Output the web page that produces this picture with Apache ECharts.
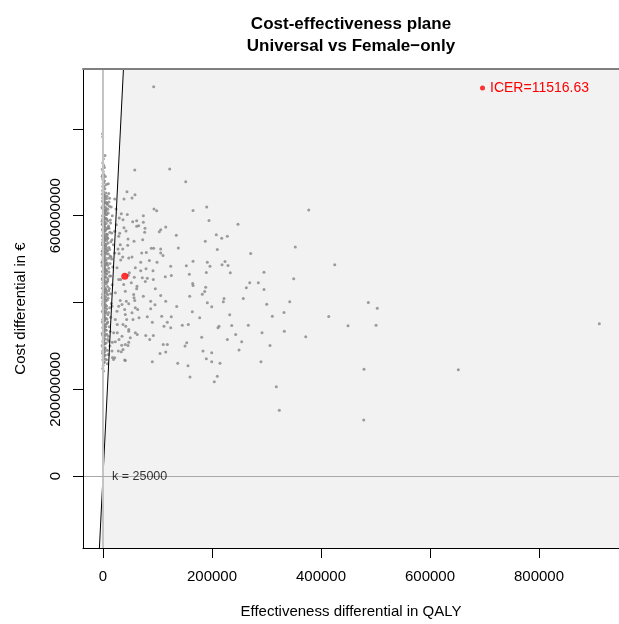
<!DOCTYPE html>
<html>
<head>
<meta charset="utf-8">
<script src="https://cdn.jsdelivr.net/npm/echarts/dist/echarts.min.js"></script>
<style>
  html, body { margin: 0; padding: 0; background: #fff; }
  #main { width: 619px; height: 624px; }
</style>
</head>
<body>
<div id="main"></div>
<script>
// willingness to pay and the mean point (ICER)
var wtp = 25000;
var icerText = 'ICER=11516.63';
var meanQaly = 40000;
var meanCost = 460665200;

// axis limits and ticks
var xLimits = [-36697, 946789];
var yLimits = [-165.5e6, 937.9e6];
var xTicks = [0, 200000, 400000, 600000, 800000];
var yTicks = [0, 200e6, 400e6, 600e6, 800e6];
var yTickLabels = [0, 200e6, 600e6];

// simulations spread out to the right
var spreadQaly = [
  93000, -800, -600, 3700, 58200, 122400, 151800, 300, -500, 400, 9700, 200, -300, 10500, 44000, 58700, 53200, 38500, 21500, 11000,
  93600, 98500, 165200, 190300, 194500, 247700, 33600, 44600, 74000, 54500, 61800, 74000, 61800, 38500, 77100, 76500, 115100, 105900, 103300, 30600,
  42200, 134500, 207900, 217800, 228100, 45900, 56900, 72800, 187700, 88600, 93000, 105900, 138200, 209700, 271000, 36100, 45300, 79500, 71000, 105900,
  29400, 53200, 110100, 165200, 191400, 223900, 218400, 32500, 69200, 85000, 99100, 124200, 152900, 196300, 229400, 158400, 189600, 233600, 295400, 114300,
  125300, 91800, 78900, 69200, 46400, 57400, 72100, 81300, 77600, 92300, 32500, 269200, 263000, 285000, 165200, 164600, 188400, 186600, 182200, 295400,
  257400, 222000, 220800, 159100, 105900, 96000, 61800, 74000, 56900, 58200, 42800, 87500, 115100, 191400, 199500, 300400, 135200, 95400, 87500, 63700,
  39800, 28800, 107700, 125300, 163900, 177400, 232500, 310700, 55000, 66100, 81300, 43500, 118000, 90500, 41700, 26200, 145500, 156500, 211000, 236200,
  266600, 124200, 111900, 47200, 26200, 62900, 78400, 92300, 212900, 181100, 243500, 291800, 29400, 45900, 110600, 118000, 150500, 153600, 183500, 249600,
  306400, 104600, 115100, 28100,
  17100, 34300, 47200, 36700, 85700, 199500, 228100, 254500, 19300, 17400, 39800, 90500, 137100, 156000, 159600, 189600, 199500, 214700, 209700, 204200,
  289900, 318000, 323500,
  377500, 352900, 425200, 349900, 342600, 486800, 503300, 332100, 414200, 449600, 501000, 910700, 332700, 372000, 478900, 652000, 478400,
  23900, 29900, 36700, 65500, 24400, 21500, 28800, 16500, 31700, 27500, 21500, 36100, 47200, 14700, 25700, 48300, 59300, 28800, 38000, 51900,
  62400, 22600, 40900, 56300, 31700, 16500, 34900, 47200, 59300, 25700, 40900, 53200, 22600, 36700, 47200, 59300, 19600, 34900, 50100, 22600,
  40900, 16500, 33600, 40900, 21500
];
var spreadCost = [
  897e6, 788.5e6, 781.6e6, 738.6e6, 705e6, 707.4e6, 678.2e6, 701.9e6, 694.3e6, 686.7e6, 673.6e6, 675.2e6, 667.4e6, 651.3e6, 655.2e6, 648.3e6, 640.7e6, 638.4e6, 638.4e6, 631.5e6,
  615.4e6, 611.5e6, 612.2e6, 620e6, 589.2e6, 580e6, 604.6e6, 603e6, 600e6, 586.2e6, 588.5e6, 584.6e6, 575.4e6, 572.4e6, 570.8e6, 561.6e6, 574e6, 567.8e6, 563.2e6, 559.3e6,
  564.8e6, 554.7e6, 556.3e6, 547.8e6, 552.4e6, 546.5e6, 540.9e6, 544.8e6, 540.9e6, 524.8e6, 524.8e6, 523.5e6, 525.8e6, 521.9e6, 512.7e6, 523.5e6, 531.7e6, 515e6, 514.3e6, 514.3e6,
  512.7e6, 505.1e6, 508.1e6, 494.9e6, 492.7e6, 494.3e6, 486.7e6, 498.2e6, 492.7e6, 496.6e6, 492.7e6, 483.5e6, 484.4e6, 483.5e6, 485.1e6, 465.1e6, 469e6, 468.3e6, 469.7e6, 459.1e6,
  462.1e6, 472.9e6, 477.5e6, 472.9e6, 462.8e6, 458.2e6, 456.8e6, 455.9e6, 448.3e6, 452.9e6, 452.9e6, 445.3e6, 433.8e6, 445.3e6, 439.1e6, 443.7e6, 435.2e6, 425.3e6, 419.1e6, 429.9e6,
  409.2e6, 409.2e6, 401.6e6, 414.5e6, 416.1e6, 431.5e6, 431.5e6, 414.5e6, 410.8e6, 404.6e6, 403e6, 403e6, 403e6, 399.3e6, 390.1e6, 396.1e6, 390.8e6, 394.7e6, 385.5e6, 383.9e6,
  383.9e6, 391.5e6, 368.5e6, 367.1e6, 378.6e6, 364.8e6, 371.7e6, 368.5e6, 360.9e6, 364.8e6, 367.1e6, 360.9e6, 354.7e6, 354.7e6, 345.5e6, 349.4e6, 347.8e6, 349.4e6, 341.9e6, 347.1e6,
  347.8e6, 341.9e6, 345.5e6, 334e6, 330.4e6, 326.4e6, 324.1e6, 324.1e6, 345.5e6, 320.2e6, 326.4e6, 330.4e6, 314.9e6, 301.2e6, 303.5e6, 303.5e6, 299.6e6, 307.4e6, 288.1e6, 290.4e6,
  301.2e6, 282.8e6, 285.8e6, 288.1e6,
  308.7e6, 301.8e6, 308.7e6, 292e6, 314.9e6, 284.4e6, 314.9e6, 309.7e6, 269e6, 273.6e6, 267.4e6, 263.7e6, 259.8e6, 254.5e6, 228.3e6, 270.6e6, 263.7e6, 259.8e6, 229.9e6, 217.7e6,
  263.7e6, 206.2e6, 151.7e6,
  613.1e6, 528.1e6, 486.7e6, 454.5e6, 401.6e6, 400e6, 386.9e6, 377e6, 367.8e6, 346.4e6, 347.8e6, 351e6, 334e6, 321.2e6, 246e6, 245.3e6, 129.4e6,
  615.4e6, 594.7e6, 590.8e6, 577e6, 579.3e6, 563.9e6, 552.4e6, 544.8e6, 533.3e6, 523.5e6, 514.3e6, 505.1e6, 502.8e6, 505.1e6, 479.8e6, 468.3e6, 479.8e6, 452.9e6, 441.4e6, 445.3e6,
  437.5e6, 422.3e6, 426e6, 418.4e6, 404.6e6, 391.5e6, 395.4e6, 397e6, 387.8e6, 380e6, 372.4e6, 376.3e6, 360.9e6, 349.4e6, 337.9e6, 330.4e6, 330.4e6, 322.5e6, 318.9e6, 309.7e6,
  303.5e6, 288.1e6, 286.7e6, 266.7e6, 272.9e6
];

// the dense band of simulations close to zero QALY
var bandQaly = [
  1200, -400, 2500, 800, -1200,
  1500, 4200, -200, 2800, 600, 6000, 1800, 3500, -600, 900, 5200, 2300, 7400, -1500,
  400, 3000, 1000, -800, 4600, 1700, 8200, 200, 2600, 5600, -300, 1300, 3800, 700, 9600, 2100, 4900, -1000, 3300, 1500,
  6500, 100, 2700, 11800, -1800, 5000, 900, 3900, 7100, -500, 2200, 6900,
  300, 2400, 4500, -700, 1600, 8800, 3100, 600, 5800, -1300, 2000, 10200, 3600, 1100, 7600, -200, 4300, 2700, 12500, 500,
  5400, 1900, -900, 3400, 900, 6200, -1600, 2900, 1400, 4800, 200, 8000, 2500, -400, 14000,
  1300, 4100, -300, 6700, 2200, 800, 9300, 3200, -1100, 5000, 1700, 11000, 400, 3700, 7200, -600, 2500, 1000, 5800, -1700,
  3000, 13200, 1500, 4400, 100, 8400, 2800, -900, 600, 6100, 1900, 3500, -200, 10000, 2300,
  700, 3900, -500, 2000, 7800, 1200, 4700, -1400, 2900, 500, 10600, 3400, 1600, 6300, -800, 2400, 900, 5300, -100, 12000,
  3100, 1400, 8900, -1200, 2700, 300, 5600, 1800, 4000, -300, 7000, 2200, 900, -1900, 3700,
  1000, 3600, -400, 5900, 1800, 400, 8300, 2600, -1000, 4300, 1300, 10500, 200, 3200, 6800, -700, 2100, 800, 4900, -1500,
  2900, 1500, 7500, 0, 3800, 2300, 600, 5300, 1100, -200,
  1600, 4600, -300, 2700, 800, 6900, 1900, -1100, 3500, 500, 9000, 2400, 1200, 5100, -600, 3000, 300, 7800, 1700, 3900,
  -100, 2100, 1000,
  600, 3300, -400, 2000, 6200, 1100, -1300, 4200, 2600, 400, 8600, 1800, -200, 3600, 900, 5000, 2300,
  200, 2900, -600, 1500, 4400, 700, -300, 2200, 300, -500, 1000,
  12000, 15000, 9000, 17000, 13500, 11000, 16000, 8500, 14500, 19000, 12200, 9800, 15800, 13000, 18000, 10800, 14200, 8700, 16800, 11600,
  13800, 9400, 15200, 12400, 10200, 14000, 8800, 11300, 13100, 9600, 10700, 12600, 7800, 9900, 6500, 8200, 7000, 5400, 6800, 9100,
  7300, 6000, 7900, 5500, 8600, 6400, 5700, 7700, 6100, 8900, 5200, 6600, 4700, 7300, 5600, 4400, 6900, 3800, 5800, 4100,
  3300, 2700, 3600, 1900, 4800, 3100, 2300, 1200, -800, 300, -1500, 1700, -900, 700, 2500, -1200, 1400, -600, 2000, -1000,
  1100, -1300, 2600, -800, 500, -1100
];
var bandCost = [
  716e6, 722e6, 711e6, 731e6, 707e6,
  695e6, 690e6, 684e6, 680e6, 676e6, 672e6, 668e6, 662e6, 658e6, 655e6, 652e6, 648e6, 645e6, 690e6,
  643e6, 640e6, 637e6, 634e6, 631e6, 628e6, 626e6, 624e6, 621e6, 618e6, 616e6, 613e6, 611e6, 608e6, 606e6, 604e6, 602e6, 600e6, 644e6, 647e6,
  639e6, 632e6, 629e6, 622e6, 619e6, 614e6, 611e6, 607e6, 603e6, 641e6, 635e6, 628e6,
  598e6, 596e6, 594e6, 592e6, 590e6, 588e6, 586e6, 584e6, 582e6, 580e6, 578e6, 576e6, 574e6, 572e6, 570e6, 568e6, 566e6, 564e6, 562e6, 560e6,
  558e6, 556e6, 554e6, 552e6, 597e6, 593e6, 587e6, 581e6, 575e6, 569e6, 563e6, 557e6, 551e6, 579e6, 583e6,
  549e6, 547e6, 545e6, 543e6, 541e6, 539e6, 537e6, 535e6, 533e6, 531e6, 529e6, 527e6, 525e6, 523e6, 521e6, 519e6, 517e6, 515e6, 513e6, 511e6,
  509e6, 507e6, 505e6, 503e6, 501e6, 548e6, 544e6, 538e6, 532e6, 526e6, 520e6, 514e6, 508e6, 502e6, 530e6,
  499e6, 497e6, 495e6, 493e6, 491e6, 489e6, 487e6, 485e6, 483e6, 481e6, 479e6, 477e6, 475e6, 473e6, 471e6, 469e6, 467e6, 465e6, 463e6, 461e6,
  459e6, 457e6, 455e6, 453e6, 451e6, 496e6, 490e6, 484e6, 478e6, 472e6, 466e6, 460e6, 454e6, 492e6, 470e6,
  449e6, 447e6, 445e6, 443e6, 441e6, 439e6, 437e6, 435e6, 433e6, 431e6, 429e6, 427e6, 425e6, 423e6, 421e6, 419e6, 417e6, 415e6, 413e6, 411e6,
  409e6, 407e6, 405e6, 403e6, 401e6, 446e6, 438e6, 430e6, 422e6, 414e6,
  398e6, 395e6, 393e6, 390e6, 387e6, 385e6, 382e6, 380e6, 377e6, 374e6, 372e6, 369e6, 366e6, 364e6, 361e6, 358e6, 355e6, 353e6, 396e6, 388e6,
  379e6, 370e6, 359e6,
  348e6, 345e6, 342e6, 339e6, 336e6, 333e6, 329e6, 326e6, 322e6, 318e6, 315e6, 312e6, 309e6, 305e6, 302e6, 344e6, 331e6,
  297e6, 293e6, 289e6, 284e6, 279e6, 274e6, 268e6, 262e6, 255e6, 248e6, 242e6,
  640e6, 620e6, 615e6, 600e6, 590e6, 571e6, 560e6, 548e6, 540e6, 533e6, 522e6, 512e6, 500e6, 490e6, 482e6, 470e6, 461e6, 450e6, 441e6, 432e6,
  420e6, 410e6, 398e6, 388e6, 377e6, 366e6, 355e6, 344e6, 333e6, 322e6, 311e6, 300e6, 290e6, 280e6, 268e6, 259e6, 630e6, 610e6, 592e6, 573e6,
  553e6, 535e6, 518e6, 498e6, 486e6, 474e6, 458e6, 447e6, 426e6, 418e6, 406e6, 392e6, 380e6, 362e6, 350e6, 337e6, 327e6, 316e6, 307e6, 296e6,
  287e6, 278e6, 270e6, 263e6, 375e6, 362e6, 350e6, 338e6, 325e6, 313e6, 301e6, 292e6, 283e6, 276e6, 306e6, 355e6, 368e6, 398e6, 424e6, 456e6,
  480e6, 518e6, 546e6, 568e6, 618e6, 650e6
];

var font = 'Liberation Sans, Arial, Helvetica, sans-serif';

var sims = [];
for (var i = 0; i < spreadQaly.length; i++) sims.push([spreadQaly[i], spreadCost[i]]);
for (var j = 0; j < bandQaly.length; j++) sims.push([bandQaly[j], bandCost[j]]);

// corners of the area below the wtp line
var areaCorners = [
  [yLimits[0] / wtp, yLimits[0]],
  [yLimits[1] / wtp, yLimits[1]],
  [xLimits[1], yLimits[1]],
  [xLimits[1], yLimits[0]]
];

function plainNumber(v) { return String(v); }

var chart = echarts.init(document.getElementById('main'));
chart.setOption({
  animation: false,
  backgroundColor: '#ffffff',
  textStyle: { fontFamily: font },
  title: {
    text: 'Cost-effectiveness plane\nUniversal vs Female\u2212only',
    left: 346,
    top: 8,
    textAlign: 'center',
    textStyle: { fontSize: 17, fontWeight: 'bold', color: '#000', lineHeight: 22, fontFamily: font }
  },
  legend: {
    right: 25,
    top: 76,
    itemWidth: 5,
    itemHeight: 5,
    icon: 'circle',
    textStyle: { color: '#ff0000', fontSize: 14, fontFamily: font },
    data: [icerText]
  },
  grid: { left: 83, right: 0, top: 69, bottom: 75 },
  xAxis: [{
    type: 'value',
    min: xLimits[0],
    max: xLimits[1],
    position: 'bottom',
    name: 'Effectiveness differential in QALY',
    nameLocation: 'middle',
    nameGap: 56,
    nameTextStyle: { fontSize: 15, color: '#000', fontFamily: font },
    axisLine: { onZero: false, lineStyle: { color: '#000', width: 1 } },
    axisTick: { length: 10, customValues: xTicks, lineStyle: { color: '#000' } },
    axisLabel: { customValues: xTicks, formatter: plainNumber, fontSize: 15, color: '#000', margin: 21 },
    splitLine: { show: false }
  }, {
    type: 'value',
    min: xLimits[0],
    max: xLimits[1],
    position: 'top',
    z: 10,
    axisLine: { onZero: false, lineStyle: { color: '#7f7f7f', width: 2 } },
    axisTick: { show: false },
    axisLabel: { show: false },
    splitLine: { show: false }
  }],
  yAxis: {
    type: 'value',
    min: yLimits[0],
    max: yLimits[1],
    z: 10,
    name: 'Cost differential in \u20ac',
    nameLocation: 'middle',
    nameGap: 55,
    nameTextStyle: { fontSize: 15, color: '#000', fontFamily: font },
    axisLine: { show: true, onZero: false, lineStyle: { color: '#000', width: 1 } },
    axisTick: { show: true, length: 10, customValues: yTicks, lineStyle: { color: '#000' } },
    axisLabel: { customValues: yTickLabels, formatter: plainNumber, rotate: 90, fontSize: 15, color: '#000', margin: 20 },
    splitLine: { show: false }
  },
  series: [{
    type: 'custom',
    z: 1,
    silent: true,
    data: [[0, 0]],
    renderItem: function (params, api) {
      var pts = areaCorners.map(function (p) { return api.coord(p); });
      return { type: 'polygon', shape: { points: pts }, style: { fill: '#f2f2f2' } };
    }
  }, {
    type: 'line',
    z: 2,
    data: [],
    silent: true,
    markLine: {
      symbol: 'none',
      silent: true,
      label: { show: false },
      data: [
        { xAxis: 0, lineStyle: { color: '#c4c4c4', width: 2, type: 'solid' } },
        { yAxis: 0, lineStyle: { color: '#a8a8a8', width: 1, type: 'solid' } }
      ]
    }
  }, {
    type: 'scatter',
    z: 3,
    data: sims,
    symbolSize: 3,
    itemStyle: { color: '#858585' },
    silent: true
  }, {
    type: 'line',
    z: 4,
    data: [areaCorners[0], areaCorners[1]],
    symbol: 'none',
    lineStyle: { color: '#000', width: 1 },
    silent: true
  }, {
    name: icerText,
    type: 'scatter',
    z: 5,
    data: [[meanQaly, meanCost]],
    symbolSize: 7,
    itemStyle: { color: '#ff0000' },
    silent: true
  }, {
    type: 'scatter',
    z: 5,
    data: [[16500, 0]],
    symbolSize: 0,
    silent: true,
    label: {
      show: true,
      position: 'right',
      distance: 0,
      formatter: 'k = ' + wtp,
      fontSize: 12.5,
      color: '#000',
      fontFamily: font
    }
  }]
});
</script>
</body>
</html>
